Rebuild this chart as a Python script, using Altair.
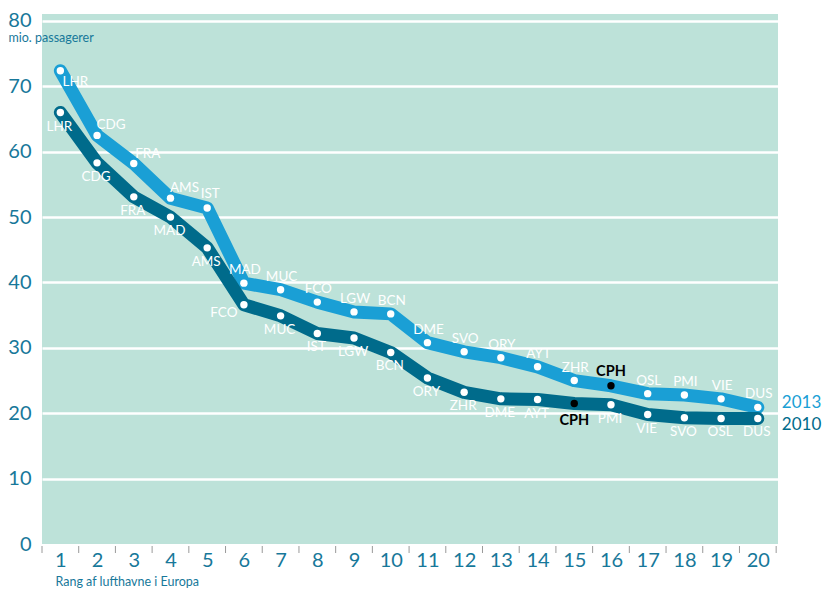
import altair as alt
import pandas as pd

ranks = list(range(1, 21))
airports_2013 = ["LHR", "CDG", "FRA", "AMS", "IST", "MAD", "MUC", "FCO", "LGW", "BCN",
                 "DME", "SVO", "ORY", "AYT", "ZHR", "CPH", "OSL", "PMI", "VIE", "DUS"]
values_2013 = [72.4, 62.5, 58.2, 52.9, 51.4, 39.9, 38.9, 37.0, 35.5, 35.2,
               30.8, 29.4, 28.5, 27.1, 25.0, 24.2, 23.0, 22.8, 22.2, 20.9]
airports_2010 = ["LHR", "CDG", "FRA", "MAD", "AMS", "FCO", "MUC", "IST", "LGW", "BCN",
                 "ORY", "ZHR", "DME", "AYT", "CPH", "PMI", "VIE", "SVO", "OSL", "DUS"]
values_2010 = [66.0, 58.3, 53.1, 50.0, 45.3, 36.6, 34.9, 32.2, 31.5, 29.3,
               25.4, 23.2, 22.2, 22.1, 21.5, 21.3, 19.8, 19.3, 19.2, 19.2]
years = ["2013", "2010"]
y_ticks = [0, 10, 20, 30, 40, 50, 60, 70, 80]
tick_bounds = [r + 0.5 for r in range(0, 21)]

C13 = "#1a9fd5"
C10 = "#006b8b"
TEAL = "#17789a"
BG = "#bde2d9"
FONT = "Lato"

rows = []
for r, a, v in zip(ranks, airports_2013, values_2013):
    rows.append({"rank": r, "airport": a, "value": v, "year": "2013"})
for r, a, v in zip(ranks, airports_2010, values_2010):
    rows.append({"rank": r, "airport": a, "value": v, "year": "2010"})
df = pd.DataFrame(rows)
ticks_df = pd.DataFrame({"rank": tick_bounds})

W, H = 736, 530

xscale = alt.Scale(domain=[0.5, 20.55], nice=False, zero=False)
yscale = alt.Scale(domain=[0, 81.07], nice=False)

x_axis = alt.Axis(
    values=ranks, ticks=False, domain=False, grid=False, labelOverlap=False,
    labelFontSize=20, labelColor=TEAL, labelFont=FONT, labelPadding=6,
    title="Rang af lufthavne i Europa", titleFont=FONT, titleFontSize=12.5,
    titleFontWeight="normal", titleColor=TEAL, titleX=13, titleY=37,
    titleAlign="left", titleBaseline="middle")
x = alt.X("rank:Q", scale=xscale, axis=x_axis)
y = alt.Y("value:Q", scale=yscale, axis=alt.Axis(
    values=y_ticks, ticks=False, domain=False, grid=True, labelOverlap=False,
    gridColor="white", gridWidth=2.5,
    gridOpacity=alt.condition("datum.value === 0", alt.value(0), alt.value(1)),
    labelFontSize=20, labelColor=TEAL, labelFont=FONT, labelPadding=11,
    title="mio. passagerer", titleFont=FONT, titleFontSize=12.5,
    titleFontWeight="normal", titleColor=TEAL, titleAngle=0,
    titleX=-34, titleY=23, titleAlign="left", titleBaseline="middle"))

base = alt.Chart(df)

line13 = base.transform_filter("datum.year == '2013'").mark_line(
    strokeWidth=13, strokeCap="round", strokeJoin="round", color=C13).encode(x=x, y=y)
line10 = base.transform_filter("datum.year == '2010'").mark_line(
    strokeWidth=13, strokeCap="round", strokeJoin="round", color=C10).encode(x=x, y=y)

points = base.mark_circle(size=55, opacity=1).encode(
    x=x, y=y,
    color=alt.condition(alt.datum.airport == "CPH", alt.value("black"), alt.value("white")))

lab_args = dict(font=FONT, fontSize=13.5, color="white", align="center", baseline="middle")


def lab(cond, dx, dy):
    return base.transform_filter(cond).mark_text(dx=dx, dy=dy, **lab_args).encode(
        x=x, y=y, text="airport:N")


lab13 = lab("datum.year == '2013' && datum.rank > 5 && datum.airport != 'CPH'", 1, -13)
lab13_a = lab("datum.year == '2013' && datum.rank == 1", 15, 11)
lab13_b = lab("datum.year == '2013' && datum.rank >= 2 && datum.rank <= 4", 14, -10)
lab13_c = lab("datum.year == '2013' && datum.rank == 5", 3, -14)
lab10 = lab("datum.year == '2010' && datum.rank != 6 && datum.airport != 'CPH'", -1, 14)
lab10_a = lab("datum.year == '2010' && datum.rank == 6", -20, 8)

cph13 = base.transform_filter("datum.year == '2013' && datum.airport == 'CPH'").mark_text(
    align="center", baseline="middle", dy=-14, font=FONT, fontSize=14.5, fontWeight="bold",
    color="black").encode(x=x, y=y, text="airport:N")
cph10 = base.transform_filter("datum.year == '2010' && datum.airport == 'CPH'").mark_text(
    align="center", baseline="middle", dy=18, font=FONT, fontSize=14.5, fontWeight="bold",
    color="black").encode(x=x, y=y, text="airport:N")

yr13 = base.transform_filter("datum.year == '2013' && datum.rank == 20").mark_text(
    align="left", baseline="middle", dx=24, dy=-4, font=FONT, fontSize=17, color=C13).encode(
    x=x, y=y, text="year:N")
yr10 = base.transform_filter("datum.year == '2010' && datum.rank == 20").mark_text(
    align="left", baseline="middle", dx=24, dy=7, font=FONT, fontSize=17, color=C10).encode(
    x=x, y=y, text="year:N")

xticks = alt.Chart(ticks_df).mark_rule(color="#9a9a9a", strokeWidth=1).encode(
    x=x, y=alt.value(H + 2), y2=alt.value(H + 9))

chart = alt.layer(
    line13, line10, points, lab13, lab13_a, lab13_b, lab13_c, lab10, lab10_a,
    cph13, cph10, yr13, yr10, xticks
).properties(
    width=W, height=H,
    autosize=alt.AutoSizeParams(type="none"),
    padding={"left": 34, "top": 6, "right": 45, "bottom": 45},
    background="white",
).configure_view(fill=BG, stroke=None)

chart.save("out.html", embed_options={"renderer": "svg", "actions": False})
